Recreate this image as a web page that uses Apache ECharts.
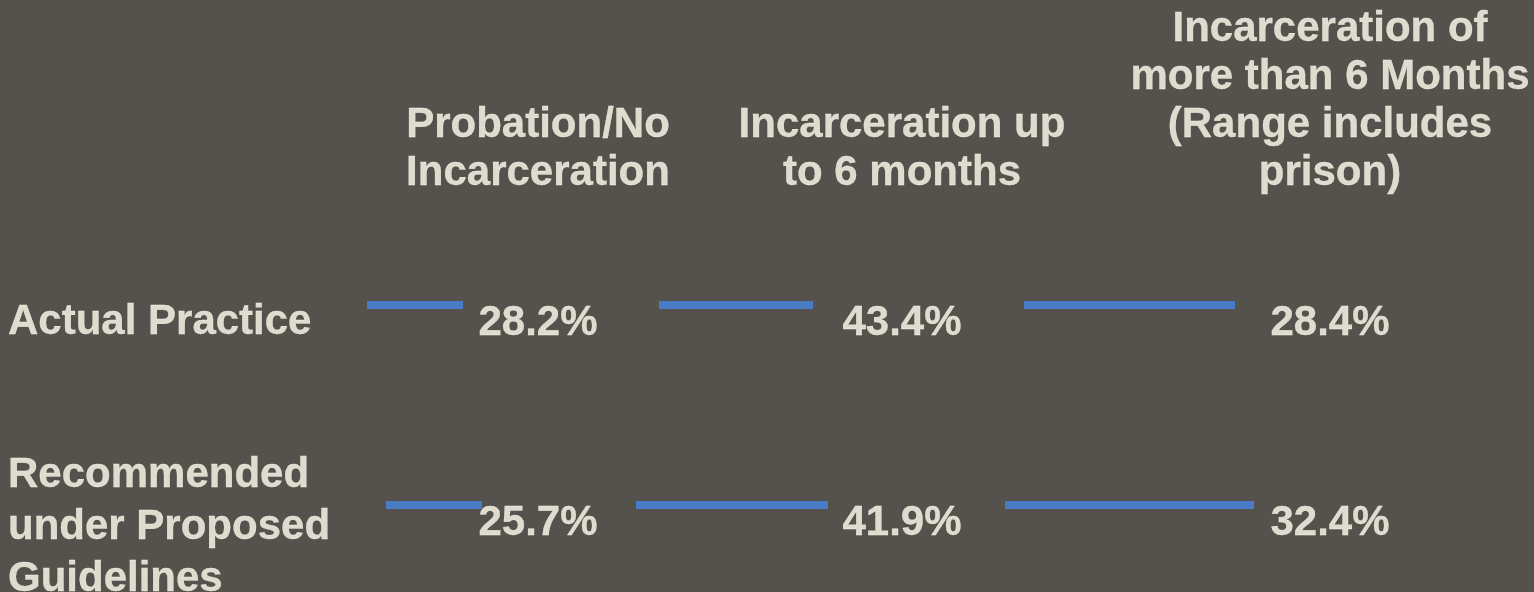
<!DOCTYPE html>
<html>
<head>
<meta charset="utf-8">
<script src="https://cdn.jsdelivr.net/npm/echarts@6/dist/echarts.min.js"></script>
<style>
  html, body { margin: 0; padding: 0; background: #55514c; }
  #chart { width: 1534px; height: 592px; }
</style>
</head>
<body>
<div id="chart"></div>
<script>
// ---- data ----
const columns = [
  'Probation/No\nIncarceration',
  'Incarceration up\nto 6 months',
  'Incarceration of\nmore than 6 Months\n(Range includes\nprison)'
];
const rows = ['Actual Practice', 'Recommended\nunder Proposed\nGuidelines'];
const actualPractice = [28.2, 43.4, 28.4];
const proposedGuidelines = [25.7, 41.9, 32.4];

// ---- layout (positions in the hidden canvas-sized axes) ----
const colCenterX = [538, 902, 1330];
const rowTextY = [323, 523];
const rowLabelY = [322, 527];
const rowLabelX = 8;
const headerBottomY = 197;
const ruleY = [305, 505];
const ruleSpans = [
  [[367, 463], [659, 813], [1024, 1235]],
  [[386, 482], [636, 828], [1005, 1254]]
];

const TEXT = '#fffff0';
const BLUE = '#4a7bc5';
const FONT = {
  fontFamily: '"Liberation Sans", Arial, sans-serif', fontWeight: 'bold', fontSize: 42,
  color: TEXT, textBorderColor: TEXT, textBorderWidth: 0.3, textShadowBlur: 0
};

const values = [actualPractice, proposedGuidelines];

const ruleData = [];
ruleSpans.forEach((spans, r) => spans.forEach(s => ruleData.push([s[0], s[1], ruleY[r]])));

const pctData = [];
values.forEach((vals, r) => vals.forEach((v, c) => pctData.push({ value: [colCenterX[c], rowTextY[r]], pct: v })));

const headerData = columns.map((t, c) => ({ value: [colCenterX[c], headerBottomY], name: t }));
const rowData = rows.map((t, r) => ({ value: [rowLabelX, rowLabelY[r]], name: t }));

const chart = echarts.init(document.getElementById('chart'), null, { renderer: 'canvas' });
chart.setOption({
  backgroundColor: '#55514c',
  animation: false,
  grid: { left: 0, right: 0, top: 0, bottom: 0 },
  xAxis: { type: 'value', min: 0, max: 1534, show: false },
  yAxis: { type: 'value', min: 0, max: 592, inverse: true, show: false },
  series: [
    {
      type: 'custom',
      silent: true,
      data: ruleData,
      renderItem: function (params, api) {
        const a = api.coord([api.value(0), api.value(2)]);
        const b = api.coord([api.value(1), api.value(2)]);
        return { type: 'rect', shape: { x: a[0], y: a[1] - 4, width: b[0] - a[0], height: 8 }, style: { fill: BLUE } };
      }
    },
    {
      type: 'scatter', silent: true, symbolSize: 0,
      data: pctData,
      label: Object.assign({
        show: true, position: 'inside', align: 'center', verticalAlign: 'middle',
        formatter: p => p.data.pct.toFixed(1) + '%'
      }, FONT)
    },
    {
      type: 'scatter', silent: true, symbolSize: 0,
      data: headerData,
      label: Object.assign({
        show: true, position: 'top', distance: 0, align: 'center', lineHeight: 48,
        formatter: p => p.data.name
      }, FONT)
    },
    {
      type: 'scatter', silent: true, symbolSize: 0,
      data: rowData,
      label: Object.assign({
        show: true, position: 'right', distance: 0, align: 'left', verticalAlign: 'middle', lineHeight: 52,
        formatter: p => p.data.name
      }, FONT)
    }
  ]
});
</script>
</body>
</html>
